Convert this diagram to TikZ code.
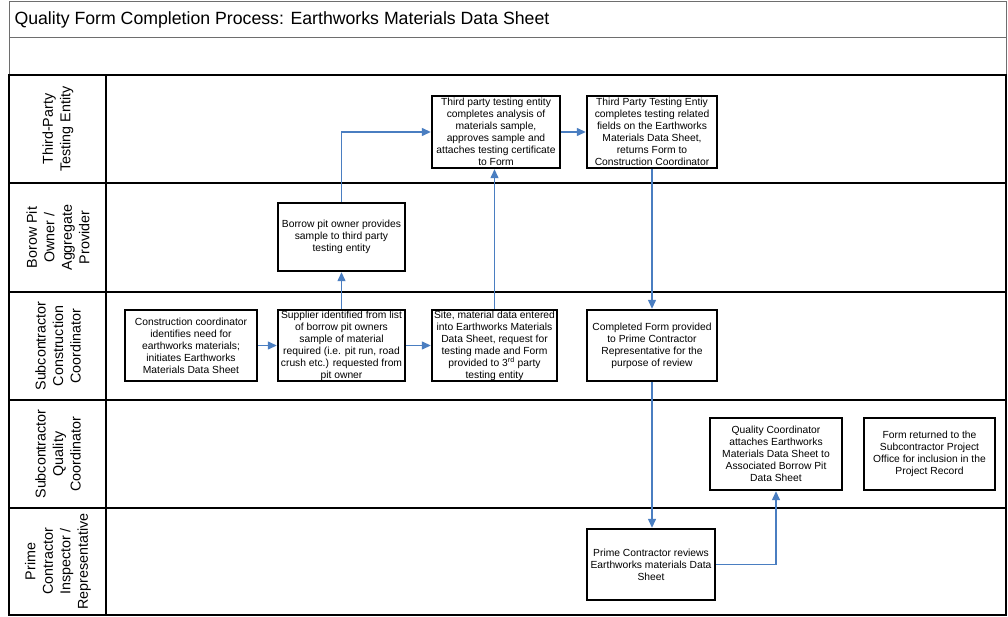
\documentclass[tikz,border=0pt]{standalone}
\usepackage{fontspec}
\setmainfont{Liberation Sans}
\usetikzlibrary{arrows.meta}
\definecolor{flowblue}{RGB}{74,126,193}
\definecolor{rulegray}{RGB}{110,110,110}
\tikzset{
  stepbox/.style={draw=black, line width=2.4pt, fill=white, inner sep=0pt,
    align=center, font=\fontsize{10.3}{12}\selectfont},
  lanelabel/.style={rotate=90, align=center, font=\fontsize{14.3}{17.5}\selectfont},
  flow/.style={draw=flowblue, line width=1.3pt,
    -{Triangle[length=9pt,width=8pt]}},
  laneline/.style={line width=2.8pt, black},
}
\begin{document}
\begin{tikzpicture}[x=1pt,y=-1pt]
\useasboundingbox (0,0) rectangle (1008,617);
\fill[white] (0,0) rectangle (1008,617);

% header rows
\draw[rulegray, line width=1pt] (9,2) rectangle (1006,75);
\draw[rulegray, line width=1pt] (9,38) -- (1006,38);
\node[anchor=west, font=\fontsize{17.7}{20}\selectfont] (title) at (11,20)
  {Quality Form Completion Process: Earthworks Materials Data Sheet};

% swimlane frame
\draw[laneline] (9,75) rectangle (1006,615);
\foreach \y in {183,292,400,508} \draw[laneline] (9,\y) -- (1006,\y);
\draw[laneline] (106,75) -- (106,615);

% lane titles
\node[lanelabel] (laneA) at (58,129) {Third-Party\\Testing Entity};
\node[lanelabel] (laneB) at (58,237.5) {Borow Pit\\Owner /\\Aggregate\\Provider};
\node[lanelabel] (laneC) at (58,346) {Subcontractor\\Construction\\Coordinator};
\node[lanelabel] (laneD) at (58,454) {Subcontractor\\Quality\\Coordinator};
\node[lanelabel] (laneE) at (58,561.5) {Prime\\Contractor\\Inspector /\\Representative};

% process steps
\node[stepbox, minimum width=132pt, minimum height=71pt] (b1) at (191,345.5)
  {Construction coordinator\\identifies need for\\earthworks materials;\\initiates Earthworks\\Materials Data Sheet};
\node[stepbox, minimum width=127pt, minimum height=71pt] (b2) at (341.5,345.5)
  {Supplier identified from list\\of borrow pit owners\\sample of material\\required (i.e. pit run, road\\crush etc.) requested from\\pit owner};
\node[stepbox, minimum width=125pt, minimum height=71pt] (b3) at (494.5,345.5)
  {Site, material data entered\\into Earthworks Materials\\Data Sheet, request for\\testing made and Form\\provided to 3\textsuperscript{rd} party\\testing entity};
\node[stepbox, minimum width=130pt, minimum height=71pt] (b4) at (652,345.5)
  {Completed Form provided\\to Prime Contractor\\Representative for the\\purpose of review};
\node[stepbox, minimum width=127pt, minimum height=68pt] (b5) at (341.5,237)
  {Borrow pit owner provides\\sample to third party\\testing entity};
\node[stepbox, minimum width=128pt, minimum height=72pt] (b6) at (496,132)
  {Third party testing entity\\completes analysis of\\materials sample,\\approves sample and\\attaches testing certificate\\to Form};
\node[stepbox, minimum width=130pt, minimum height=72pt] (b7) at (652,132)
  {Third Party Testing Entiy\\completes testing related\\fields on the Earthworks\\Materials Data Sheet,\\returns Form to\\Construction Coordinator};
\node[stepbox, minimum width=132pt, minimum height=72pt] (b8) at (776,454)
  {Quality Coordinator\\attaches Earthworks\\Materials Data Sheet to\\Associated Borrow Pit\\Data Sheet};
\node[stepbox, minimum width=131pt, minimum height=72pt] (b9) at (929.5,454)
  {Form returned to the\\Subcontractor Project\\Office for inclusion in the\\Project Record};
\node[stepbox, minimum width=128pt, minimum height=71pt] (b10) at (651,564.5)
  {Prime Contractor reviews\\Earthworks materials Data\\Sheet};

% connectors
\draw[flow] (b1.east) -- (b2.west);
\draw[flow] (b2.east) -- (b3.west);
\draw[flow] (b2.north) -- (b5.south);
\draw[flow] (b5.north) |- (b6.west);
\draw[flow] (b3.north) -- (b3.north |- b6.south);
\draw[flow] (b6.east) -- (b7.west);
\draw[flow] (b7.south) -- (b7.south |- b4.north);
\draw[flow] (b4.south) -- (b4.south |- b10.north);
\draw[flow] (b10.east) -| (b8.south);
\end{tikzpicture}
\end{document}
